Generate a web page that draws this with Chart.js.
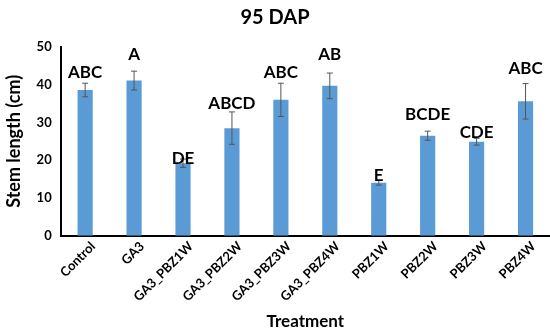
<!DOCTYPE html>
<html>
<head>
<meta charset="utf-8">
<script src="https://cdn.jsdelivr.net/npm/chart.js@4"></script>
<style>
  html, body { margin: 0; padding: 0; background: #fff; }
</style>
</head>
<body>
<canvas id="chart" width="550" height="335"></canvas>
<script>
const treatments = ['Control', 'GA3', 'GA3_PBZ1W', 'GA3_PBZ2W', 'GA3_PBZ3W', 'GA3_PBZ4W', 'PBZ1W', 'PBZ2W', 'PBZ3W', 'PBZ4W'];
const stemLength = [38.6, 41.1, 19.2, 28.5, 36.0, 39.7, 14.0, 26.5, 24.9, 35.6];
const stdErr = [1.8, 2.5, 1.1, 4.3, 4.4, 3.4, 0.6, 1.2, 0.9, 4.7];
const letters = ['ABC', 'A', 'DE', 'ABCD', 'ABC', 'AB', 'E', 'BCDE', 'CDE', 'ABC'];
// where the bottom of each letter group sits (axis units)
const letterPos = [41.9, 46.5, 19.0, 33.7, 41.9, 46.5, 14.5, 30.6, 26.0, 42.8];
const yTicks = [0, 10, 20, 30, 40, 50];

const FONT = 'Lato, "Open Sans", sans-serif';

const extras = {
  id: 'extras',
  afterDatasetsDraw(chart) {
    const ctx = chart.ctx;
    const meta = chart.getDatasetMeta(0);
    const y = chart.scales.y;
    ctx.save();
    ctx.strokeStyle = '#555';
    ctx.lineWidth = 1;
    meta.data.forEach((bar, i) => {
      const hi = y.getPixelForValue(stemLength[i] + stdErr[i]);
      const lo = y.getPixelForValue(stemLength[i] - stdErr[i]);
      ctx.beginPath();
      ctx.moveTo(bar.x, hi); ctx.lineTo(bar.x, lo);
      ctx.moveTo(bar.x - 3, hi); ctx.lineTo(bar.x + 3, hi);
      ctx.moveTo(bar.x - 3, lo); ctx.lineTo(bar.x + 3, lo);
      ctx.stroke();
    });
    ctx.fillStyle = '#000';
    ctx.font = 'bold 17px ' + FONT;
    ctx.textAlign = 'center';
    ctx.textBaseline = 'alphabetic';
    meta.data.forEach((bar, i) => {
      ctx.fillText(letters[i], bar.x, y.getPixelForValue(letterPos[i]));
    });
    ctx.restore();
  }
};

new Chart(document.querySelector('#chart'), {
  type: 'bar',
  data: {
    labels: treatments,
    datasets: [{
      data: stemLength,
      backgroundColor: '#5b9bd5',
      borderWidth: 0,
      barPercentage: 0.31,
      categoryPercentage: 1
    }]
  },
  options: {
    responsive: false,
    animation: false,
    layout: { padding: { left: 0, right: 0, top: 2 } },
    plugins: {
      legend: { display: false },
      tooltip: { enabled: false },
      title: {
        display: true,
        text: '95 DAP',
        color: '#000',
        font: { family: FONT, size: 20, weight: 'bold' },
        padding: { top: 4, bottom: 17 }
      }
    },
    scales: {
      y: {
        min: 0,
        max: 50,
        afterBuildTicks: axis => { axis.ticks = yTicks.map(v => ({ value: v })); },
        grid: { display: false, drawTicks: false },
        border: { color: '#000', width: 2 },
        ticks: { color: '#000', padding: 9, font: { family: FONT, size: 13, weight: 'bold' } },
        title: {
          display: true,
          text: 'Stem length (cm)',
          color: '#000',
          font: { family: FONT, size: 18, weight: 'bold' },
          padding: 3
        }
      },
      x: {
        grid: { display: false, drawTicks: false },
        border: { color: '#000', width: 2 },
        ticks: {
          color: '#000',
          minRotation: 45,
          maxRotation: 45,
          padding: 3,
          labelOffset: 8,
          font: { family: FONT, size: 13, weight: 'bold' }
        },
        title: {
          display: true,
          text: 'Treatment',
          color: '#000',
          font: { family: FONT, size: 17, weight: 'bold' },
          padding: { top: 4, bottom: 3 }
        }
      }
    }
  },
  plugins: [extras]
});
</script>
</body>
</html>
